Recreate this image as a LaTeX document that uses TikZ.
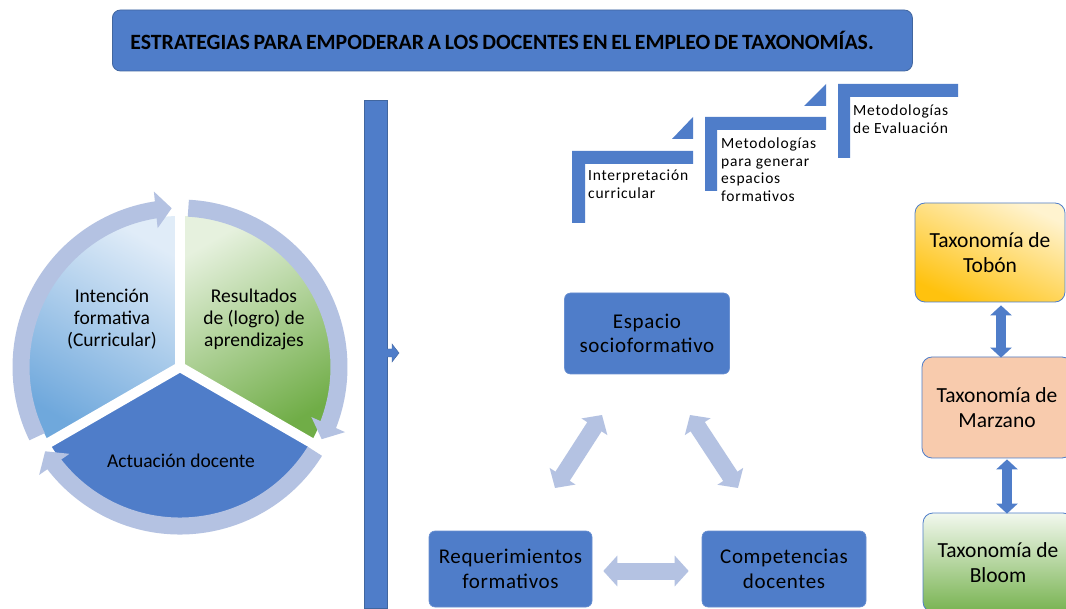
\documentclass[tikz,border=0pt]{standalone}
\usepackage{fontspec}
\setmainfont{Carlito}
\usetikzlibrary{arrows.meta,bending}
\definecolor{mainblue}{HTML}{4F7DC9}
\definecolor{bordblue}{HTML}{41669F}
\definecolor{lav}{HTML}{B4C2E2}
\definecolor{peach}{HTML}{F8CBAD}
\definecolor{segblueL}{HTML}{E0ECF8}
\definecolor{segblueD}{HTML}{6FA8DC}
\definecolor{seggreenL}{HTML}{E6F1DE}
\definecolor{seggreenD}{HTML}{70AD47}
\definecolor{goldL}{HTML}{FFF3CF}
\definecolor{goldD}{HTML}{FFC20E}
\definecolor{bloomL}{HTML}{F2F8EE}
\definecolor{bloomD}{HTML}{78B351}
\newcommand{\tightspaces}{\spaceskip=0.17em plus 0.05em\relax}
\begin{document}
\begin{tikzpicture}[x=1pt,y=-1pt,
  titlebox/.style={draw=bordblue, fill=mainblue, rounded corners=8pt, line width=0.8pt,
    minimum height=61pt, text width=764pt, inner xsep=18pt, inner ysep=0pt, align=left,
    font=\bfseries\fontsize{21.8}{24}\selectfont, anchor=west},
  segtext/.style={align=center, font=\fontsize{19.5}{22}\selectfont, inner sep=0pt},
  ringarrow/.style={draw=lav, line width=17pt, -{Triangle[width=36pt,length=16pt]}},
  gapline/.style={draw=white, line width=10pt},
  barbox/.style={draw=bordblue, fill=mainblue, line width=0.6pt, inner sep=0pt},
  stepshape/.style={fill=mainblue},
  steptext/.style={anchor=west, align=left, inner sep=0pt,
    font=\fontsize{15.5}{17.6}\selectfont\addfontfeatures{LetterSpace=5}},
  tribox/.style={draw=mainblue!85!white, fill=mainblue, rounded corners=6pt, line width=0.6pt,
    align=center, inner sep=0pt, font=\fontsize{21}{24.5}\selectfont\addfontfeatures{LetterSpace=3}},
  lavarrow/.style={draw=lav, line width=17pt, {Triangle[width=30pt,length=14pt]}-{Triangle[width=30pt,length=14pt]}},
  taxbox/.style={draw=mainblue, rounded corners=10pt, line width=0.8pt, align=center, inner sep=0pt,
    minimum width=150pt, font=\fontsize{21.5}{25}\selectfont},
  taxarrow/.style={draw=mainblue, line width=10pt, {Triangle[width=21pt,length=10pt]}-{Triangle[width=21pt,length=10pt]}}
]
\useasboundingbox (0,0) rectangle (1066,609);
\fill[white] (0,0) rectangle (1066,609);

% title
\node[titlebox] (title) at (112,40.5) {\tightspaces ESTRATEGIAS PARA EMPODERAR A LOS DOCENTES EN EL EMPLEO DE TAXONOMÍAS.};

% cycle diagram
\coordinate (C) at (180,367);
\shade[top color=segblueL, bottom color=segblueD, shading angle=-30]
  (C) -- ([shift={(-90:151)}]C) arc[start angle=-90, end angle=-210, radius=151] -- cycle;
\shade[top color=seggreenL, bottom color=seggreenD, shading angle=30]
  (C) -- ([shift={(-90:151)}]C) arc[start angle=-90, end angle=30, radius=151] -- cycle;
\fill[mainblue]
  (C) -- ([shift={(150:151)}]C) arc[start angle=150, end angle=30, radius=151] -- cycle;
\draw[gapline] (C) -- ([shift={(-90:152)}]C);
\draw[gapline] (C) -- ([shift={(-210:152)}]C);
\draw[gapline] (C) -- ([shift={(-330:152)}]C);
\draw[ringarrow] ([shift={(-206:159)}]C) arc[start angle=-206, end angle=-93, radius=159];
\draw[ringarrow] ([shift={(-87:159)}]C) arc[start angle=-87, end angle=27, radius=159];
\draw[ringarrow] ([shift={(32:159)}]C) arc[start angle=32, end angle=148, radius=159];
\node[segtext] (intencion) at (112,319) {Intención\\formativa\\(Curricular)};
\node[segtext] (resultados) at (254,319) {Resultados\\de (logro) de\\aprendizajes};
\node[segtext] (actuacion) at (181,461) {Actuación docente};

% vertical bar with small arrow
\node[barbox, minimum width=23pt, minimum height=508pt] (bar) at (375.5,354) {};
\draw[fill=mainblue, draw=bordblue, line width=0.4pt]
  (387,349) -- (392,349) -- (392,344) -- (399,353) -- (392,362) -- (392,357) -- (387,357);

% step-up process
\fill[stepshape] (572,151) -- (693,151) -- (693,164) -- (585,164) -- (585,223) -- (572,223) -- cycle;
\fill[stepshape] (672,139) -- (693,139) -- (693,117) -- cycle;
\fill[stepshape] (705,117) -- (826,117) -- (826,130) -- (717,130) -- (717,191) -- (705,191) -- cycle;
\fill[stepshape] (804,106) -- (826,106) -- (826,84) -- cycle;
\fill[stepshape] (838,84) -- (958,84) -- (958,97) -- (850,97) -- (850,158) -- (838,158) -- cycle;
\node[steptext] (interp) at (588,184.5) {Interpretación\\curricular};
\node[steptext] (metgen) at (721,169.5) {Metodologías\\para generar\\espacios\\formativos};
\node[steptext] (meteval) at (853,119) {Metodologías\\de Evaluación};

% triangle of relations
\node[tribox, minimum width=165pt, minimum height=81pt] (espacio) at (647,333.5) {Espacio\\socioformativo};
\node[tribox, minimum width=163pt, minimum height=76pt] (req) at (510.5,569) {Requerimientos\\formativos};
\node[tribox, minimum width=164pt, minimum height=76pt] (comp) at (784,569) {Competencias\\docentes};
\coordinate (l1) at (555,488);
\coordinate (l2) at (602,415);
\coordinate (r1) at (690,415);
\coordinate (r2) at (738,488);
\draw[lavarrow] (l1) -- (l2);
\draw[lavarrow] (r1) -- (r2);
\draw[lavarrow] ([xshift=11pt]req.east |- 0,571) -- ([xshift=-13pt]comp.west |- 0,571);

% taxonomies
\node[taxbox, minimum height=99pt, top color=goldL, bottom color=goldD, shading angle=-25] (tobon) at (990,252.5) {Taxonomía de\\Tobón};
\node[taxbox, minimum height=101pt, fill=peach] (marzano) at (997,407.5) {Taxonomía de\\Marzano};
\node[taxbox, minimum height=99pt, top color=bloomL, bottom color=bloomD] (bloom) at (998,562.5) {Taxonomía de\\Bloom};
\draw[taxarrow] ([xshift=11pt,yshift=-3pt]tobon.south) -- ([xshift=4pt,yshift=-1pt]marzano.north);
\draw[taxarrow] ([xshift=10pt,yshift=-1pt]marzano.south) -- ([xshift=9pt,yshift=-1pt]bloom.north);
\end{tikzpicture}
\end{document}
